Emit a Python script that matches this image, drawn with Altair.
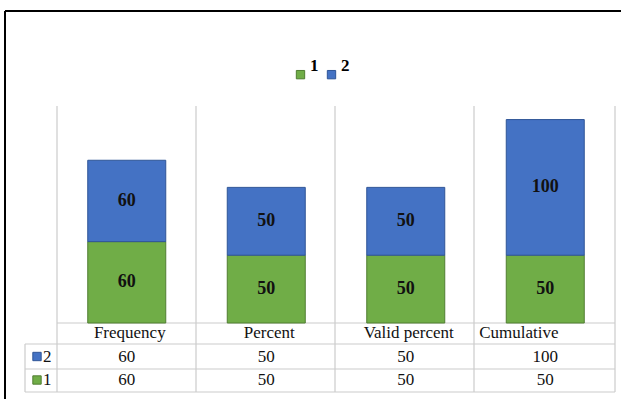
import altair as alt
import pandas as pd

# ---- data ----
categories = ["Frequency", "Percent", "Valid percent", "Cumulative"]
series_names = ["1", "2"]
values_1 = [60, 50, 50, 50]
values_2 = [60, 50, 50, 100]
row_order = ["header", "2", "1"]

colors = ["#70AD47", "#4472C4"]
strokes = ["#507E32", "#2F5597"]

long_rows = []
for c, v1, v2 in zip(categories, values_1, values_2):
    long_rows.append({"category": c, "series": "1", "value": v1})
    long_rows.append({"category": c, "series": "2", "value": v2})
df = pd.DataFrame(long_rows)

table_rows = []
for c, v1, v2 in zip(categories, values_1, values_2):
    table_rows.append({"category": c, "row": "2", "label": str(v2)})
    table_rows.append({"category": c, "row": "1", "label": str(v1)})
table_df = pd.DataFrame(table_rows)
header_df = pd.DataFrame({"category": categories, "row": ["header"] * len(categories)})
legend_rows_df = pd.DataFrame({"row": ["2", "1"], "series": ["2", "1"]})

# ---- layout (pixels) ----
X0, X1 = 57, 615
TOP, BASE = 106, 323
TBL_L, TBL_B = 25, 392
GRID = "#cccccc"

xscale = alt.Scale(domain=categories, range=[X0, X1], paddingInner=0, paddingOuter=0)
yscale = alt.Scale(domain=[0, 160], range=[BASE, TOP])
rowscale = alt.Scale(domain=row_order, range=[333, 380], padding=0)
color_scale = alt.Scale(domain=series_names, range=colors)
stroke_scale = alt.Scale(domain=series_names, range=strokes)

X = alt.X("category:N", scale=xscale, axis=None, sort=categories)
SERIF = "Liberation Serif"
TFS = 17

one = pd.DataFrame({"a": [0]})


def hline(x1, x2, y, color=GRID, w=1.2):
    return alt.Chart(one).mark_rule(color=color, strokeWidth=w).encode(
        x=alt.value(x1), x2=alt.value(x2), y=alt.value(y))


def vline(x, y1, y2, color=GRID, w=1.2):
    return alt.Chart(one).mark_rule(color=color, strokeWidth=w).encode(
        x=alt.value(x), y=alt.value(y1), y2=alt.value(y2))


decor = [
    vline(X0, TOP, TBL_B), vline(196, TOP, TBL_B), vline(335, TOP, TBL_B),
    vline(474, TOP, TBL_B), vline(X1, TOP, TBL_B), vline(TBL_L, 344, TBL_B),
    hline(X0, X1, BASE), hline(TBL_L, X1, 344), hline(TBL_L, X1, 369),
    hline(TBL_L, X1, TBL_B),
    hline(5, 621, 11, color="#000000", w=2),
    vline(5, 11, 399, color="#000000", w=2),
]

bars = alt.Chart(df).mark_bar(size=78, strokeWidth=1).encode(
    x=X,
    y=alt.Y("value:Q", stack="zero", scale=yscale, axis=None),
    color=alt.Color(
        "series:N", scale=color_scale,
        legend=alt.Legend(
            title=None, orient="none", legendX=292, legendY=66,
            direction="horizontal", symbolType="square", symbolSize=70,
            labelFont=SERIF, labelFontWeight="bold", labelFontSize=17,
            labelColor="#000000", labelBaseline="bottom", columnPadding=4,
            labelOffset=1, symbolStrokeWidth=1,
        ),
    ),
    stroke=alt.Stroke("series:N", scale=stroke_scale, legend=None),
    order=alt.Order("series:N", sort="ascending"),
)

bar_text = alt.Chart(df).transform_stack(
    stack="value", groupby=["category"], as_=["v0", "v1"],
    sort=[alt.SortField("series", order="ascending")],
).transform_calculate(mid="(datum.v0 + datum.v1) / 2").mark_text(
    font=SERIF, fontWeight="bold", fontSize=18, color="#111111", baseline="middle",
).encode(
    x=X,
    y=alt.Y("mid:Q", scale=yscale, axis=None),
    text="value:Q",
)

header_main = alt.Chart(header_df).transform_filter(
    "datum.category != 'Cumulative'"
).mark_text(font=SERIF, fontSize=TFS, color="#111111", baseline="middle", dx=3).encode(
    x=X, y=alt.Y("row:N", scale=rowscale, axis=None), text="category:N")

header_last = alt.Chart(header_df).transform_filter(
    "datum.category == 'Cumulative'"
).mark_text(font=SERIF, fontSize=TFS, color="#111111", baseline="middle",
            align="left", dx=-66).encode(
    x=X, y=alt.Y("row:N", scale=rowscale, axis=None), text="category:N")

cells = alt.Chart(table_df).mark_text(
    font=SERIF, fontSize=TFS, color="#111111", baseline="middle").encode(
    x=X, y=alt.Y("row:N", scale=rowscale, axis=None), text="label:N")

row_squares = alt.Chart(legend_rows_df).mark_point(
    shape="square", filled=True, size=70, opacity=1, strokeWidth=1).encode(
    x=alt.value(37),
    y=alt.Y("row:N", scale=rowscale, axis=None),
    color=alt.Color("series:N", scale=color_scale, legend=None),
    stroke=alt.Stroke("series:N", scale=stroke_scale, legend=None),
)

row_labels = alt.Chart(legend_rows_df).mark_text(
    font=SERIF, fontSize=TFS, color="#111111", baseline="middle", align="left").encode(
    x=alt.value(43),
    y=alt.Y("row:N", scale=rowscale, axis=None),
    text="row:N",
)

chart = alt.layer(
    *decor, bars, bar_text, header_main, header_last, cells, row_squares, row_labels
).resolve_scale(y="independent").properties(
    width=621, height=399, padding=0,
    autosize=alt.AutoSizeParams(type="none"),
    background="#ffffff",
).configure_view(stroke=None)

chart.save("out.html", embed_options={"renderer": "svg", "actions": False})
